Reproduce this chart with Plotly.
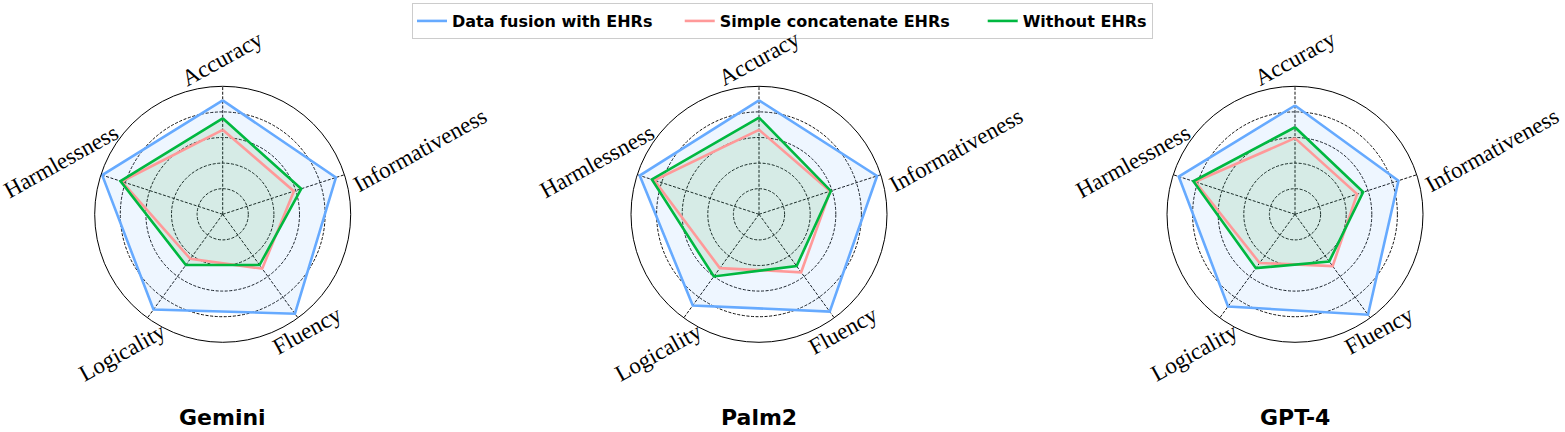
import math
import plotly.graph_objects as go

W, H = 1565, 432

categories = ["Accuracy", "Informativeness", "Fluency", "Logicality", "Harmlessness"]
models = ["Gemini", "Palm2", "GPT-4"]
series_names = ["Data fusion with EHRs", "Simple concatenate EHRs", "Without EHRs"]

gemini_fusion = [0.89, 0.93, 0.96, 0.92, 0.99]
gemini_concat = [0.66, 0.585, 0.525, 0.43, 0.83]
gemini_without = [0.75, 0.645, 0.49, 0.49, 0.84]

palm2_fusion = [0.89, 0.97, 0.94, 0.88, 0.98]
palm2_concat = [0.66, 0.585, 0.56, 0.52, 0.86]
palm2_without = [0.755, 0.59, 0.50, 0.60, 0.88]

gpt4_fusion = [0.85, 0.85, 0.97, 0.89, 0.955]
gpt4_concat = [0.595, 0.51, 0.50, 0.47, 0.82]
gpt4_without = [0.68, 0.56, 0.455, 0.52, 0.835]

data = {
    "Gemini": [gemini_fusion, gemini_concat, gemini_without],
    "Palm2": [palm2_fusion, palm2_concat, palm2_without],
    "GPT-4": [gpt4_fusion, gpt4_concat, gpt4_without],
}

line_colors = ["#66AAFF", "#FF9999", "#00B840"]
fill_colors = ["rgba(102,170,255,0.11)", None, "rgba(30,150,30,0.11)"]
legend_pad = ["\u00a0\u00a0\u00a0\u00a0", "\u00a0\u00a0\u00a0\u00a0\u00a0", ""]

centers_x = [222.7, 759.0, 1295.0]
center_y = 214.3
R = 128.0

fig = go.Figure()

label_dist = {"Accuracy": 156, "Informativeness": 207, "Fluency": 144,
              "Logicality": 171, "Harmlessness": 170}

annotations = []
for i, m in enumerate(models):
    pid = "polar" if i == 0 else f"polar{i+1}"
    sub = pid
    theta = categories + [categories[0]]
    for j, vals in enumerate(data[m]):
        if fill_colors[j] is None:
            continue
        r = vals + [vals[0]]
        fig.add_trace(go.Scatterpolar(
            r=r, theta=theta, mode="none", fill="toself",
            fillcolor=fill_colors[j], showlegend=False, hoverinfo="skip",
            subplot=sub))
    for j, vals in enumerate(data[m]):
        r = vals + [vals[0]]
        fig.add_trace(go.Scatterpolar(
            r=r, theta=theta, mode="lines",
            line=dict(color=line_colors[j], width=2.6),
            name=series_names[j] + legend_pad[j], legendgroup=series_names[j],
            showlegend=(i == 0), subplot=sub))
    cx = centers_x[i]
    dom_x = [(cx - R) / W, (cx + R) / W]
    dom_y = [(H - center_y - R) / H, (H - center_y + R) / H]
    fig.layout[pid] = dict(
        domain=dict(x=dom_x, y=dom_y),
        bgcolor="white",
        radialaxis=dict(range=[0, 1], tickvals=[0.2, 0.4, 0.6, 0.8],
                        showticklabels=False, ticks="", showline=False,
                        gridcolor="#111111", gridwidth=0.8, griddash="3px,1.6px"),
        angularaxis=dict(categoryorder="array", categoryarray=categories,
                         direction="clockwise", rotation=90,
                         showticklabels=False, ticks="",
                         showline=True, linecolor="black", linewidth=1,
                         gridcolor="#111111", gridwidth=0.7, griddash="3px,1.6px"),
    )
    for k, c in enumerate(categories):
        ang = math.radians(90 - 72 * k)
        d = label_dist[c]
        px = cx + d * math.cos(ang)
        py = center_y - d * math.sin(ang)
        annotations.append(dict(
            text=c, x=px / W, y=(H - py) / H, xref="paper", yref="paper",
            xanchor="center", yanchor="middle", showarrow=False,
            textangle=-29,
            font=dict(family="Liberation Serif", size=23, color="black")))
    annotations.append(dict(
        text=m, x=cx / W, y=(H - 417) / H, xref="paper", yref="paper",
        xanchor="center", yanchor="middle", showarrow=False,
        font=dict(family="DejaVu Sans", size=22, color="black", weight="bold")))

fig.update_layout(
    width=W, height=H,
    margin=dict(l=0, r=0, t=0, b=0),
    paper_bgcolor="white", plot_bgcolor="white",
    annotations=annotations,
    legend=dict(orientation="h", x=0.5, xanchor="center", y=0.993, yanchor="top",
                bordercolor="#CCCCCC", borderwidth=1, bgcolor="white",
                font=dict(family="DejaVu Sans", size=16, color="black", weight="bold"),
                itemwidth=30),
)

fig.write_html("out.html", config={"displayModeBar": False},
               post_script="document.body.style.margin='0';")
